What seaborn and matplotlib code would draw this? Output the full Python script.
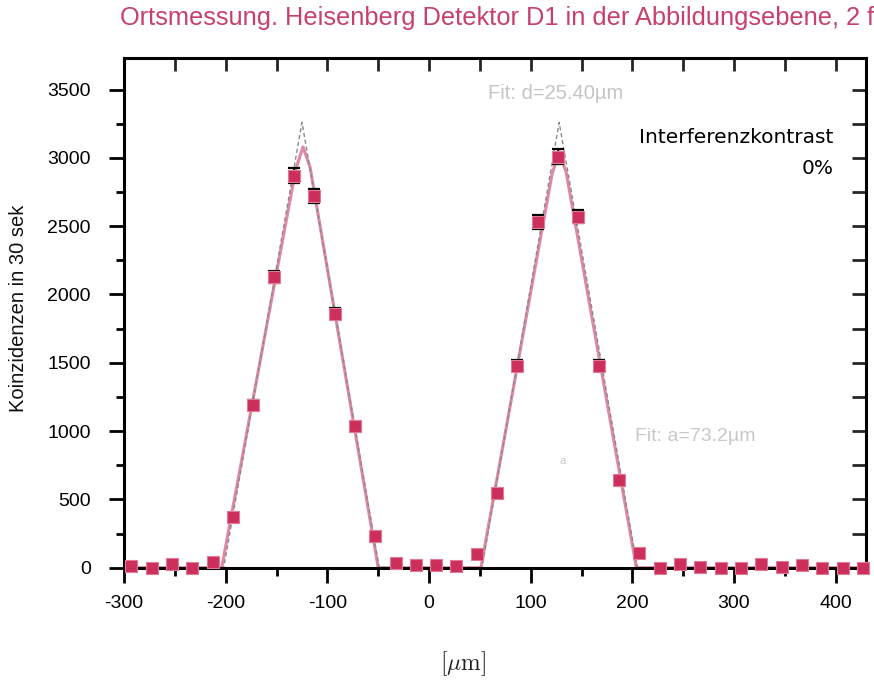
import matplotlib
matplotlib.use("Agg")
import matplotlib.pyplot as plt
from matplotlib.ticker import MultipleLocator
import seaborn as sns
import pandas as pd

# ─────────────────────────────────────────
# DATA
# ─────────────────────────────────────────
positions = [-293, -273, -253, -233, -213, -193, -173, -153, -133, -113, -93, -73,
             -53, -33, -13, 7, 27, 47, 67, 87, 107, 127, 147, 167, 187, 207,
             227, 247, 267, 287, 307, 327, 347, 367, 387, 407, 427]
counts = [10, 0, 25, 0, 45, 370, 1190, 2130, 2870, 2720, 1860, 1040,
          235, 35, 20, 20, 10, 100, 545, 1480, 2530, 3010, 2570, 1480, 640, 105,
          0, 30, 5, 0, -5, 25, 5, 20, 0, 0, 0]
errors = [10, 5, 15, 5, 20, 20, 35, 45, 55, 50, 40, 30,
          15, 10, 10, 10, 5, 15, 25, 40, 50, 55, 50, 40, 25, 15,
          5, 10, 5, 5, 5, 10, 5, 10, 5, 5, 5]

# slit-model fit (grey) and smoothed fit (red)
fitX = [-300, -202, -125, -49, 52, 128, 205, 430]
fitGrey = [0, 0, 3260, 0, 0, 3260, 0, 0]
redX = [-300, -204, -131, -124, -117, -50, 51, 121, 128, 135, 204, 430]
redY = [0, 0, 2920, 3080, 2930, 0, 0, 2880, 3050, 2890, 0, 0]

xTicks = [-300, -200, -100, 0, 100, 200, 300, 400]
yTicks = [0, 500, 1000, 1500, 2000, 2500, 3000, 3500]

points = pd.DataFrame({"pos": positions, "counts": counts, "err": errors})
greyFit = pd.DataFrame({"x": fitX, "y": fitGrey})
redFit = pd.DataFrame({"x": redX, "y": redY})

# ─────────────────────────────────────────
# STYLE
# ─────────────────────────────────────────
sns.set_theme(style="ticks")
plt.rcParams["font.family"] = ["Liberation Sans", "DejaVu Sans"]
plt.rcParams["mathtext.fontset"] = "cm"
plt.rcParams["axes.unicode_minus"] = False

fig = plt.figure(figsize=(8.74, 6.84), dpi=100)
ax = fig.add_axes([0.142, 0.170, 0.849, 0.745])

# fit curves
sns.lineplot(data=redFit, x="x", y="y", ax=ax, color="#d86a88", linewidth=2.2,
             alpha=0.8, estimator=None, sort=False)
sns.lineplot(data=greyFit, x="x", y="y", ax=ax, color="#8a8a8a", linewidth=1.0,
             estimator=None, sort=False)
ax.lines[-1].set_dashes([3, 2])

# measured points with error bars
ax.errorbar(points["pos"], points["counts"], yerr=points["err"], fmt="none",
            ecolor="black", elinewidth=1.3, capsize=4, capthick=1.6,
            clip_on=False, zorder=4)
sns.scatterplot(data=points, x="pos", y="counts", ax=ax, marker="s", s=75,
                color="#cc2f5c", edgecolor="#e07a98", linewidth=0.8,
                clip_on=False, zorder=5)

ax.set_xlim(-300, 430)
ax.set_ylim(0, 3730)
ax.set_xticks(xTicks)
ax.set_yticks(yTicks)
ax.xaxis.set_minor_locator(MultipleLocator(50))
ax.yaxis.set_minor_locator(MultipleLocator(250))

for side in ["left", "right", "top", "bottom"]:
    ax.spines[side].set_visible(True)
    ax.spines[side].set_linewidth(2.2)
    ax.spines[side].set_color("black")

ax.tick_params(which="major", direction="out", length=11, width=2, labelsize=14,
               colors="black")
ax.tick_params(axis="y", which="major", pad=13)
ax.tick_params(axis="x", which="major", pad=9)
ax.tick_params(which="minor", direction="out", length=6, width=2, colors="black")
ax.tick_params(top=False, right=False, which="both")

# inward ticks on top and right
top = ax.secondary_xaxis("top")
top.set_xticks(xTicks)
top.xaxis.set_minor_locator(MultipleLocator(50))
top.tick_params(which="both", direction="in", length=9, width=2, labeltop=False)
right = ax.secondary_yaxis("right")
right.set_yticks(yTicks)
right.yaxis.set_minor_locator(MultipleLocator(250))
right.tick_params(which="both", direction="in", length=10, width=2, labelright=False)

ax.set_xlabel(r"$[\mu\mathrm{m}]$", fontsize=17, color="#222222")
ax.xaxis.set_label_coords(0.457, -0.16)
ax.set_ylabel("Koinzidenzen in 30 sek", fontsize=14.5, color="#111111")
ax.yaxis.set_label_coords(-0.13, 0.51)

# annotations
ax.text(58, 3470, "Fit: d=25.40µm", fontsize=14.5, color="#c4c4c4", va="center")
ax.text(203, 960, "Fit: a=73.2µm", fontsize=14, color="#c8c8c8", va="center")
ax.text(128, 780, "a", fontsize=8, color="#c8c8c8", va="center")
ax.text(398, 3150, "Interferenzkontrast", fontsize=14.5, color="black",
        ha="right", va="center", family="DejaVu Sans")
ax.text(398, 2920, "0%", fontsize=14.5, color="black", ha="right", va="center",
        family="DejaVu Sans")

fig.text(0.137, 0.973, "Ortsmessung. Heisenberg Detektor D1 in der Abbildungsebene, 2 f",
         fontsize=18.3, color="#c8406a", ha="left", va="center")

fig.savefig("out.png", dpi=100)
plt.close(fig)
